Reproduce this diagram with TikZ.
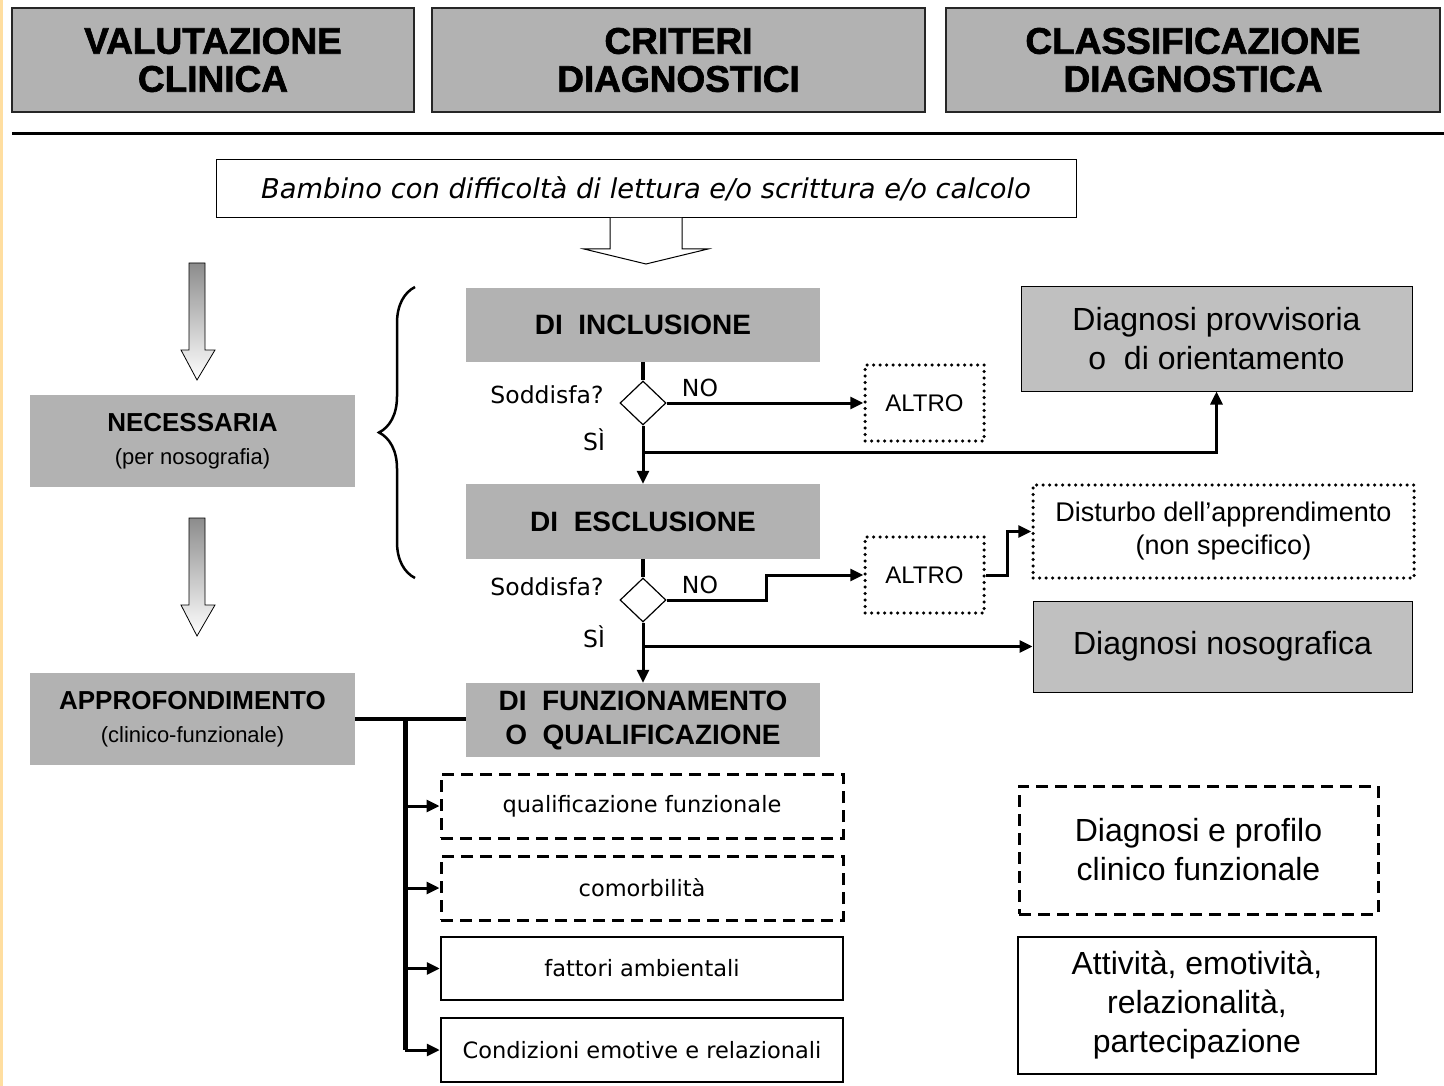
\documentclass[tikz,border=0pt]{standalone}
\usepackage{fontspec}
\setmainfont{Liberation Sans}
\newfontfamily\comic{DejaVu Sans}
\newfontfamily\heavy[FakeBold=1.8]{Liberation Sans Bold}
\usetikzlibrary{arrows.meta,shapes.geometric,decorations.pathreplacing}
\definecolor{boxgray}{RGB}{178,178,178}
\definecolor{boxgrayb}{RGB}{192,192,192}
\definecolor{edgeorange}{RGB}{255,222,160}
\begin{document}
\begin{tikzpicture}[x=1pt,y=-1pt,
  hdr/.style={draw=black!85,line width=2.5pt,fill=boxgray,inner sep=0pt,align=center,
    font=\heavy\fontsize{37}{38}\selectfont},
  graybox/.style={fill=boxgray,inner sep=0pt,align=center},
  bigbold/.style={font=\fontsize{28}{34}\selectfont\bfseries},
  diag/.style={draw,diamond,fill=white,line width=1.2pt,inner sep=0pt,minimum width=46pt,minimum height=44pt},
  comictxt/.style={font=\comic\fontsize{22.5}{24}\selectfont},
  lbltxt/.style={font=\comic\fontsize{23.5}{24}\selectfont},
  conn/.style={line width=3pt,-{Triangle[length=13pt,width=12pt]}},
  plain/.style={line width=3.5pt},
  dotbox/.style={draw,line width=3.5pt,dash pattern=on 0pt off 6.5pt,line cap=round,inner sep=0pt,align=center},
  dashbox/.style={draw,line width=3pt,dash pattern=on 12pt off 7pt,inner sep=0pt,align=center},
  solidbox/.style={draw,line width=2.5pt,inner sep=0pt,align=center},
  arialbig/.style={font=\fontsize{32}{39}\selectfont},
]
\useasboundingbox (0,0) rectangle (1444,1086);
\fill[edgeorange] (0,0) rectangle (3,1086);

% headers
\node[hdr,minimum width=402pt,minimum height=104pt] (h1) at (213,60) {VALUTAZIONE\\CLINICA};
\node[hdr,minimum width=493pt,minimum height=104pt] (h2) at (678.5,60) {CRITERI\\DIAGNOSTICI};
\node[hdr,minimum width=494pt,minimum height=104pt] (h3) at (1193,60) {CLASSIFICAZIONE\\DIAGNOSTICA};
\coordinate (ruleL) at (12,134);
\coordinate (ruleR) at (1444,134);
\draw[line width=3pt] (ruleL) -- (ruleR);

% top box
\node[draw,line width=1pt,minimum width=860pt,minimum height=58pt,inner sep=0pt,
  font=\comic\itshape\fontsize{27.3}{29}\selectfont] (top) at (646,189) {Bambino con difficoltà di lettura e/o scrittura e/o calcolo};
\draw[line width=1pt,fill=white] (610,218) -- (610,249) -- (584,249) -- (646,264) -- (708,249) -- (682,249) -- (682,218);

% left hollow arrows
\shade[top color=black!45,bottom color=white] (189,263) -- (205,263) -- (205,350) -- (215,350) -- (197,380) -- (181,350) -- (189,350) -- cycle;
\draw[line width=0.8pt] (189,263) -- (205,263) -- (205,350) -- (215,350) -- (197,380) -- (181,350) -- (189,350) -- cycle;
\shade[top color=black!45,bottom color=white] (189,518) -- (205,518) -- (205,605) -- (215,605) -- (197,636) -- (181,605) -- (189,605) -- cycle;
\draw[line width=0.8pt] (189,518) -- (205,518) -- (205,605) -- (215,605) -- (197,636) -- (181,605) -- (189,605) -- cycle;

% left boxes
\node[graybox,minimum width=325pt,minimum height=92pt,font=\fontsize{22}{33}\selectfont] (nec) at (192.5,441)
  {{\fontsize{26}{33}\selectfont\bfseries NECESSARIA}\\(per nosografia)};
\node[graybox,minimum width=325pt,minimum height=92pt,font=\fontsize{22}{33}\selectfont] (appr) at (192.5,719)
  {{\fontsize{26}{33}\selectfont\bfseries APPROFONDIMENTO}\\(clinico-funzionale)};

% brace
\coordinate (brB) at (415,578);
\coordinate (brT) at (415,287);
\draw[line width=2.5pt,decorate,decoration={brace,amplitude=36pt}] (brB) -- (brT);

% criteria boxes
\node[graybox,bigbold,minimum width=354pt,minimum height=74pt] (incl) at (643,325) {DI\ \ INCLUSIONE};
\node[graybox,bigbold,minimum width=354pt,minimum height=75pt] (excl) at (643,521.5) {DI\ \ ESCLUSIONE};
\node[graybox,bigbold,minimum width=354pt,minimum height=74pt] (funz) at (643,720) {DI\ \ FUNZIONAMENTO\\O\ \ QUALIFICAZIONE};

% diamonds
\node[diag] (d1) at (643,403) {};
\node[diag] (d2) at (643,600) {};
\node[lbltxt] (q1) at (547,395) {Soddisfa?};
\node[lbltxt] (q2) at (547,587) {Soddisfa?};
\node[lbltxt] (no1) at (700,388) {NO};
\node[lbltxt] (no2) at (700,585) {NO};
\node[lbltxt] (si1) at (594,440) {SÌ};
\node[lbltxt] (si2) at (594,637) {SÌ};

% ALTRO boxes
\node[dotbox,minimum width=119pt,minimum height=76pt,font=\fontsize{24}{28}\selectfont] (alt1) at (924.5,403) {ALTRO};
\node[dotbox,minimum width=119pt,minimum height=76pt,font=\fontsize{24}{28}\selectfont] (alt2) at (924.5,575) {ALTRO};

% right boxes
\node[draw,line width=1pt,fill=boxgrayb,inner sep=0pt,align=center,arialbig,minimum width=391pt,minimum height=104pt] (dprov) at (1216.5,339) {Diagnosi provvisoria\\o\ \ di orientamento};
\node[dotbox,minimum width=381pt,minimum height=93pt,font=\fontsize{27}{33}\selectfont] (dist) at (1223.5,531.5) {Disturbo dell’apprendimento\\(non specifico)};
\node[draw,line width=1pt,fill=boxgrayb,inner sep=0pt,align=center,arialbig,minimum width=379pt,minimum height=91pt] (dnoso) at (1222.5,646.5) {Diagnosi nosografica};
\node[dashbox,arialbig,minimum width=359pt,minimum height=128pt] (dprof) at (1198.5,850) {Diagnosi e profilo\\clinico funzionale};
\node[solidbox,arialbig,minimum width=358pt,minimum height=137pt] (attiv) at (1197,1005.5) {Attività, emotività,\\relazionalità,\\partecipazione};

% bottom boxes
\node[dashbox,comictxt,minimum width=402pt,minimum height=64pt] (qual) at (642,806) {qualificazione funzionale};
\node[dashbox,comictxt,minimum width=402pt,minimum height=64pt] (comor) at (642,888) {comorbilità};
\node[solidbox,comictxt,minimum width=402pt,minimum height=63pt] (fatt) at (642,968.5) {fattori ambientali};
\node[solidbox,comictxt,minimum width=402pt,minimum height=64pt] (cond) at (642,1050) {Condizioni emotive e relazionali};

% connectors
\draw[plain] (incl.south) -- (d1.north);
\draw[conn] (d1.south) -- (excl.north);
\draw[conn] (d1.east) -- (alt1.west);
\coordinate (s1) at (643,452);
\draw[conn] (s1) -- (s1 -| dprov.south) -- (dprov.south);
\draw[plain] (excl.south) -- (d2.north);
\draw[conn] (d2.south) -- (funz.north);
\coordinate (n2a) at (766,600);
\coordinate (n2b) at (766,575);
\draw[conn] (d2.east) -- (n2a) -- (n2b) -- (alt2.west);
\coordinate (a2a) at (1007,575);
\coordinate (a2b) at (1007,531.5);
\draw[conn] (alt2.east) -- (a2a) -- (a2b) -- (dist.west);
\coordinate (s2) at (643,646.5);
\draw[conn] (s2) -- (dnoso.west);
\draw[plain] (appr.east) -- (appr.east -| funz.west);
\coordinate (tr) at (405,719);
\coordinate (trb) at (405,1050);
\draw[line width=5pt] (tr) -- (trb);
\draw[conn] (tr |- qual.west) -- (qual.west);
\draw[conn] (tr |- comor.west) -- (comor.west);
\draw[conn] (tr |- fatt.west) -- (fatt.west);
\draw[conn] (tr |- cond.west) -- (cond.west);
\end{tikzpicture}
\end{document}
